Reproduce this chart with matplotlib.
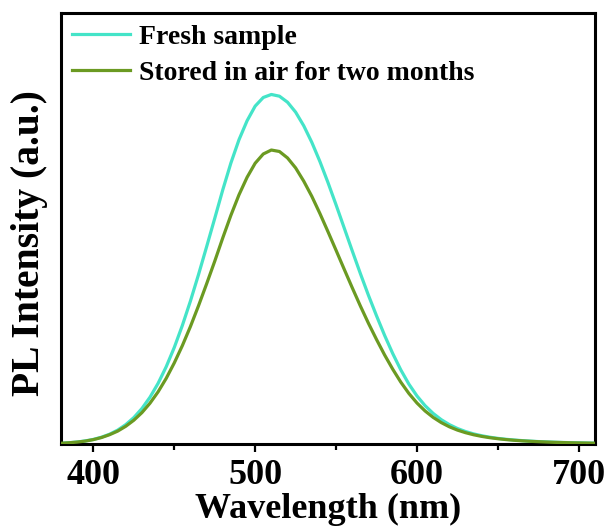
import matplotlib
matplotlib.use("Agg")
import matplotlib.pyplot as plt
from matplotlib.ticker import MultipleLocator

wavelength = [380, 385, 390, 395, 400, 405, 410, 415, 420, 425, 430, 435, 440, 445,
              450, 455, 460, 465, 470, 475, 480, 485, 490, 495, 500, 505, 510, 515,
              520, 525, 530, 535, 540, 545, 550, 555, 560, 565, 570, 575, 580, 585,
              590, 595, 600, 605, 610, 615, 620, 625, 630, 635, 640, 645, 650, 655,
              660, 665, 670, 675, 680, 685, 690, 695, 700, 705, 710]

fresh = [0.0019, 0.0030, 0.0047, 0.0072, 0.0107, 0.0158, 0.0227, 0.0322, 0.0449,
         0.0613, 0.0823, 0.1086, 0.1407, 0.1791, 0.2239, 0.2751, 0.3318, 0.3933,
         0.4578, 0.5234, 0.5900, 0.6520, 0.7060, 0.7500, 0.7840, 0.8040, 0.8110,
         0.8070, 0.7930, 0.7700, 0.7385, 0.7000, 0.6555, 0.6066, 0.5548, 0.5015,
         0.4481, 0.3956, 0.3451, 0.2975, 0.2520, 0.2100, 0.1720, 0.1390, 0.1115,
         0.0890, 0.0710, 0.0565, 0.0450, 0.0360, 0.0290, 0.0235, 0.0192, 0.0158,
         0.0131, 0.0110, 0.0093, 0.0079, 0.0067, 0.0057, 0.0049, 0.0042, 0.0036,
         0.0031, 0.0027, 0.0023, 0.0020]

stored = [0.0018, 0.0029, 0.0045, 0.0068, 0.0102, 0.0150, 0.0216, 0.0299, 0.0411,
          0.0552, 0.0728, 0.0947, 0.1210, 0.1522, 0.1881, 0.2283, 0.2727, 0.3209,
          0.3717, 0.4240, 0.4785, 0.5307, 0.5782, 0.6188, 0.6515, 0.6729, 0.6821,
          0.6787, 0.6637, 0.6406, 0.6100, 0.5747, 0.5349, 0.4926, 0.4494, 0.4057,
          0.3625, 0.3204, 0.2802, 0.2425, 0.2066, 0.1737, 0.1436, 0.1173, 0.0951,
          0.0767, 0.0618, 0.0497, 0.0400, 0.0323, 0.0263, 0.0215, 0.0177, 0.0147,
          0.0123, 0.0103, 0.0087, 0.0074, 0.0063, 0.0054, 0.0046, 0.0039, 0.0034,
          0.0029, 0.0025, 0.0022, 0.0019]

labels = ["Fresh sample", "Stored in air for two months"]
colors = ["#44E4C8", "#6B9A22"]
x_ticks = [400, 500, 600, 700]

plt.rcParams['font.family'] = ['Liberation Serif', 'DejaVu Serif']
plt.rcParams['font.weight'] = 'bold'

fig = plt.figure(figsize=(6.13, 5.31), dpi=100)
ax = fig.add_axes([0.0995, 0.1638, 0.8711, 0.8117])

ax.plot(wavelength, fresh, color=colors[0], lw=2.3, label=labels[0], zorder=2,
        solid_joinstyle='round')
ax.plot(wavelength, stored, color=colors[1], lw=2.3, label=labels[1], zorder=3,
        solid_joinstyle='round')

ax.set_xlim(380, 710)
ax.set_ylim(0, 1.0)
ax.set_xticks(x_ticks)
ax.xaxis.set_minor_locator(MultipleLocator(50))
ax.set_yticks([])
ax.tick_params(axis='x', which='major', direction='out', length=6, width=1.6,
               labelsize=26, pad=5)
ax.tick_params(axis='x', which='minor', direction='out', length=4, width=1.6)
for lab in ax.get_xticklabels():
    lab.set_fontweight('bold')
for sp in ax.spines.values():
    sp.set_linewidth(2.2)

ax.set_xlabel("Wavelength (nm)", fontsize=26, fontweight='bold')
ax.xaxis.set_label_coords(0.5, -0.113)
ax.set_ylabel("PL Intensity (a.u.)", fontsize=28.5, fontweight='bold')
ax.yaxis.set_label_coords(-0.025, 0.466)

leg = ax.legend(loc='upper left', frameon=False,
                handlelength=2.1, handletextpad=0.3, labelspacing=0.38,
                borderaxespad=0.2, borderpad=0.2,
                prop={'weight': 'bold', 'size': 20})

fig.savefig("out.png", dpi=100)
